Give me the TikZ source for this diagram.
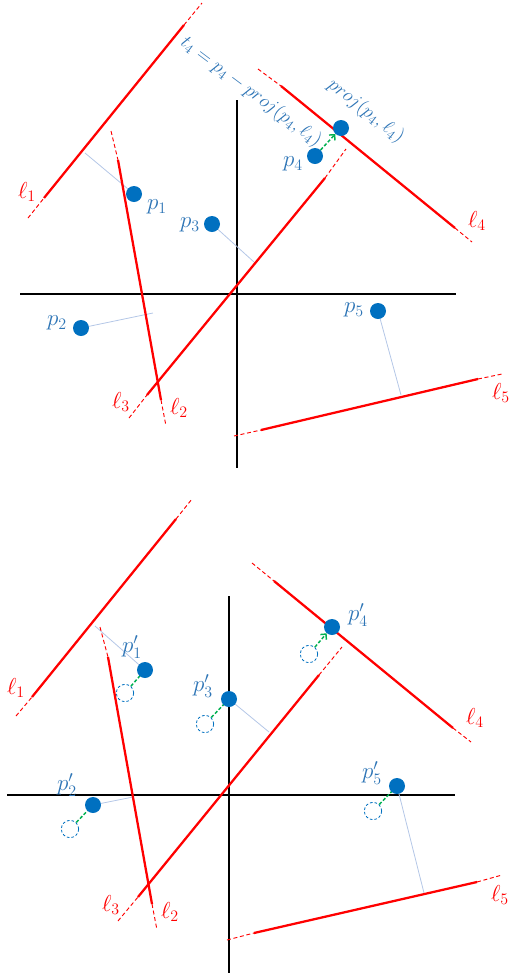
\documentclass[tikz,border=0pt]{standalone}
\usetikzlibrary{arrows.meta}
\definecolor{dotblue}{HTML}{0070C0}
\definecolor{txtblue}{HTML}{2E75B6}
\definecolor{perpblue}{HTML}{B4C7E7}
\definecolor{redl}{HTML}{FF0000}
\definecolor{greenl}{HTML}{00B050}
\begin{document}
\begin{tikzpicture}[x=0.75pt,y=-0.75pt,
  dot/.style={circle,fill=dotblue,inner sep=0pt,minimum size=12pt},
  ghost/.style={circle,draw=dotblue,dashed,dash pattern=on 2pt off 1.5pt,line width=0.6pt,inner sep=0pt,minimum size=13pt},
  lab/.style={text=txtblue,font=\fontsize{17}{20}\selectfont,inner sep=0pt},
  llab/.style={text=redl,font=\fontsize{17}{20}\selectfont,inner sep=0pt},
  solidred/.style={draw=redl,line width=1.7pt},
  dashred/.style={draw=redl,line width=0.7pt,dash pattern=on 3pt off 2pt},
  axis/.style={draw=black,line width=1pt},
  perp/.style={draw=perpblue,line width=0.6pt},
  mv/.style={draw=greenl,line width=1.1pt,dash pattern=on 2.5pt off 1.5pt},
  mvarrow/.style={mv,-{Straight Barb[length=3pt,width=6pt]}},
  rot/.style={text=txtblue,font=\fontsize{14.5}{17}\selectfont,inner sep=0pt}
]
\useasboundingbox (0,0) rectangle (527,979);

% ================= TOP PANEL =================
\coordinate (hxa) at (20,294); \coordinate (hxb) at (456,294);
\coordinate (vya) at (237,100); \coordinate (vyb) at (237,468);
\draw[axis] (hxa) -- (hxb);
\draw[axis] (vya) -- (vyb);

\coordinate (a1s) at (44,198); \coordinate (a1e) at (184,25);
\coordinate (a1d) at (28,218); \coordinate (a1u) at (202,3);
\coordinate (a2s) at (118,160); \coordinate (a2e) at (161,400);
\coordinate (a2u) at (111,131); \coordinate (a2d) at (166,426);
\coordinate (a3s) at (147,395); \coordinate (a3e) at (325,178);
\coordinate (a3d) at (129,418); \coordinate (a3u) at (346,149);
\coordinate (a4s) at (281,86); \coordinate (a4e) at (455,228);
\coordinate (a4u) at (258,69); \coordinate (a4d) at (472,242);
\coordinate (a5s) at (261,430); \coordinate (a5e) at (478,379);
\coordinate (a5l) at (234,436); \coordinate (a5r) at (502,374);

\coordinate (f1) at (85,153);
\coordinate (f2) at (153,313);
\coordinate (f3) at (254,262);
\coordinate (f5) at (401,395);

\coordinate (cp1) at (134,194);
\coordinate (cp2) at (81,328);
\coordinate (cp3) at (212,224);
\coordinate (cp5) at (378,311);

\draw[perp] (cp1) -- (f1);
\draw[perp] (cp2) -- (f2);
\draw[perp] (cp3) -- (f3);
\draw[perp] (cp5) -- (f5);

\draw[dashred] (a1d) -- (a1s); \draw[dashred] (a1e) -- (a1u);
\draw[solidred] (a1s) -- (a1e);
\draw[dashred] (a2u) -- (a2s); \draw[dashred] (a2e) -- (a2d);
\draw[solidred] (a2s) -- (a2e);
\draw[dashred] (a3d) -- (a3s); \draw[dashred] (a3e) -- (a3u);
\draw[solidred] (a3s) -- (a3e);
\draw[dashred] (a4u) -- (a4s); \draw[dashred] (a4e) -- (a4d);
\draw[solidred] (a4s) -- (a4e);
\draw[dashred] (a5l) -- (a5s); \draw[dashred] (a5e) -- (a5r);
\draw[solidred] (a5s) -- (a5e);

\node[dot] (p1) at (cp1) {};
\node[dot] (p2) at (cp2) {};
\node[dot] (p3) at (cp3) {};
\node[dot] (p4) at (315,156) {};
\node[dot] (pr4) at (341,128) {};
\node[dot] (p5) at (cp5) {};
\draw[mvarrow] (p4) -- (pr4);

\node[lab] (lp1) at (157,207) {$p_1$};
\node[lab] (lp2) at (57,323) {$p_2$};
\node[lab] (lp3) at (190,225) {$p_3$};
\node[lab] (lp4) at (293,164) {$p_4$};
\node[lab] (lp5) at (354,310) {$p_5$};

\node[llab] (ll1) at (27,192) {$\ell_1$};
\node[llab] (ll2) at (179,408) {$\ell_2$};
\node[llab] (ll3) at (121,402) {$\ell_3$};
\node[llab] (ll4) at (477,221) {$\ell_4$};
\node[llab] (ll5) at (501,393) {$\ell_5$};

\node[rot,rotate=-37] (tt) at (251,92) {$t_4 = p_4 - proj(p_4,\ell_4)$};
\node[rot,rotate=-38] (tp) at (366,111) {$proj(p_4,\ell_4)$};

% ================= BOTTOM PANEL =================
\coordinate (hxa2) at (7,795); \coordinate (hxb2) at (455,795);
\coordinate (vya2) at (229,596); \coordinate (vyb2) at (229,973);
\draw[axis] (hxa2) -- (hxb2);
\draw[axis] (vya2) -- (vyb2);

\coordinate (b1s) at (32,697); \coordinate (b1e) at (176,519);
\coordinate (b1d) at (16,716); \coordinate (b1u) at (192,499);
\coordinate (b2s) at (108,657); \coordinate (b2e) at (152,904);
\coordinate (b2u) at (100,627); \coordinate (b2d) at (157,930);
\coordinate (b3s) at (138,897); \coordinate (b3e) at (319,675);
\coordinate (b3d) at (118,921); \coordinate (b3u) at (342,647);
\coordinate (b4s) at (274,581); \coordinate (b4e) at (453,728);
\coordinate (b4u) at (252,563); \coordinate (b4d) at (471,742);
\coordinate (b5s) at (254,933); \coordinate (b5e) at (477,882);
\coordinate (b5l) at (227,940); \coordinate (b5r) at (502,875);

\coordinate (g1) at (95,626);
\coordinate (g2) at (133,797);
\coordinate (g3) at (269,732);
\coordinate (g5) at (424,893);

\coordinate (cq1) at (145,670);
\coordinate (cq2) at (93,805);
\coordinate (cq3) at (229,699);
\coordinate (cq4) at (332,627);
\coordinate (cq5) at (397,786);

\draw[perp] (cq1) -- (g1);
\draw[perp] (cq2) -- (g2);
\draw[perp] (cq3) -- (g3);
\draw[perp] (cq5) -- (g5);

\draw[dashred] (b1d) -- (b1s); \draw[dashred] (b1e) -- (b1u);
\draw[solidred] (b1s) -- (b1e);
\draw[dashred] (b2u) -- (b2s); \draw[dashred] (b2e) -- (b2d);
\draw[solidred] (b2s) -- (b2e);
\draw[dashred] (b3d) -- (b3s); \draw[dashred] (b3e) -- (b3u);
\draw[solidred] (b3s) -- (b3e);
\draw[dashred] (b4u) -- (b4s); \draw[dashred] (b4e) -- (b4d);
\draw[solidred] (b4s) -- (b4e);
\draw[dashred] (b5l) -- (b5s); \draw[dashred] (b5e) -- (b5r);
\draw[solidred] (b5s) -- (b5e);

\node[ghost] (o1) at (125,693) {};
\node[ghost] (o2) at (70,829) {};
\node[ghost] (o3) at (205,724) {};
\node[ghost] (o4) at (309,654) {};
\node[ghost] (o5) at (373,811) {};

\draw[mv] (o1) -- (cq1);
\draw[mv] (o2) -- (cq2);
\draw[mv] (o3) -- (cq3);
\draw[mv] (o5) -- (cq5);

\node[dot] (q1) at (cq1) {};
\node[dot] (q2) at (cq2) {};
\node[dot] (q3) at (cq3) {};
\node[dot] (q4) at (cq4) {};
\node[dot] (q5) at (cq5) {};
\draw[mvarrow] (o4) -- (q4);

\node[lab] (lq1) at (132,647) {$p_1'$};
\node[lab] (lq2) at (67,785) {$p_2'$};
\node[lab] (lq3) at (203,686) {$p_3'$};
\node[lab] (lq4) at (358,615) {$p_4'$};
\node[lab] (lq5) at (372,773) {$p_5'$};

\node[llab] (m1) at (16,688) {$\ell_1$};
\node[llab] (m2) at (170,912) {$\ell_2$};
\node[llab] (m3) at (111,905) {$\ell_3$};
\node[llab] (m4) at (475,718) {$\ell_4$};
\node[llab] (m5) at (500,895) {$\ell_5$};
\end{tikzpicture}
\end{document}
